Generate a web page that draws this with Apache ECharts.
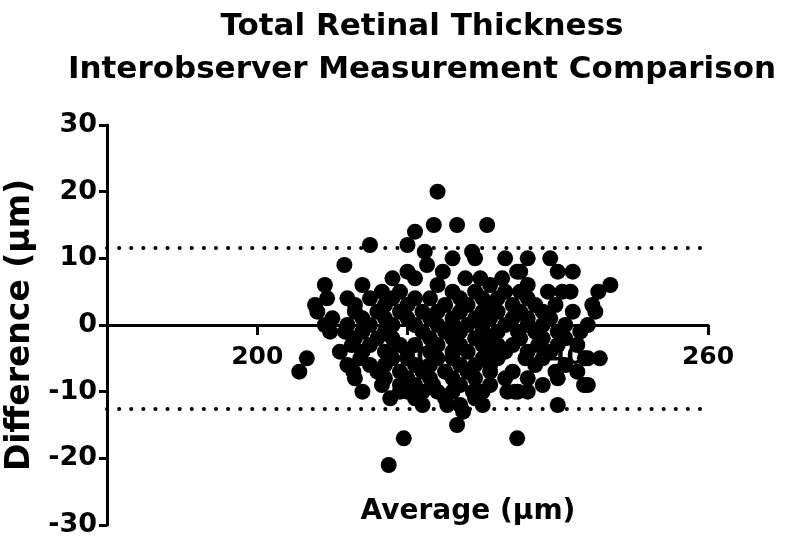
<!DOCTYPE html>
<html>
<head>
<meta charset="utf-8">
<script src="https://cdn.jsdelivr.net/npm/echarts@6/dist/echarts.min.js"></script>
<style>
  html, body { margin: 0; padding: 0; background: #fff; }
  #main { width: 789px; height: 543px; }
</style>
</head>
<body>
<div id="main"></div>
<script>
// Bland-Altman: rows of points grouped by difference value (y), x = average
var rows = [
  [20, [224]],
  [15, [223.5, 226.6, 230.6]],
  [14, [221]],
  [12, [215, 220]],
  [11, [222.3, 228.6]],
  [10, [226, 229, 233, 236, 239]],
  [9, [211.6, 222.6]],
  [8, [220, 224.7, 234.6, 235, 240, 242]],
  [7, [218, 221, 227.7, 229.7, 232.6]],
  [6, [209, 214, 224, 231, 236, 247]],
  [5, [216.6, 219, 226, 229, 233, 235, 238.7, 240.6, 241.7, 245.4]],
  [4, [209.3, 212, 215, 218, 221, 223, 227, 230, 232, 236]],
  [3, [207.7, 213, 217, 220, 225, 228, 231, 234, 237, 239.7, 244.6]],
  [2, [208, 213, 216, 219, 222, 224, 227, 230, 232, 235, 238, 242, 245]],
  [1, [210, 214, 217, 220, 223, 226, 229, 231, 234, 236, 239]],
  [0, [209, 212, 215, 218, 221, 224, 226, 228, 230, 233, 236, 238, 241, 244]],
  [-1, [209.7, 211.7, 214, 217, 222, 225, 227, 230, 232, 234.7, 237, 240, 243]],
  [-2, [213, 216, 218, 223, 226, 229, 231, 235, 238, 241]],
  [-3, [212.6, 215, 219, 221, 224, 227, 230, 232, 234, 237.4, 240, 242.6]],
  [-4, [211, 214, 217, 220, 223, 226, 228, 231, 233, 236, 239]],
  [-5, [206.6, 213.7, 218, 220, 224, 226, 230, 232, 235.7, 238, 243.6, 244, 245.6]],
  [-6, [212, 215, 217, 221, 223, 227, 229, 231, 237, 241]],
  [-7, [205.6, 212.8, 216, 219, 222, 225, 228, 231, 234, 239.7, 242.6]],
  [-8, [213, 217, 220, 223, 226, 229, 233, 236, 240]],
  [-9, [216.6, 219, 221, 223.4, 227, 231, 238, 243.5, 244]],
  [-10, [214, 219, 220, 222, 224, 226, 228.7, 230, 233.3, 234.3, 234.7, 236]],
  [-11, [217.7, 221, 225, 229]],
  [-12, [222, 225.3, 227, 230, 240]],
  [-13, [227.4]],
  [-15, [226.6]],
  [-17, [219.5, 234.6]],
  [-21, [217.5]]
];
var limits = [11.6, -12.5];
var xTicks = [180, 200, 220, 240, 260];
var yTicks = [-30, -20, -10, 0, 10, 20, 30];

var points = [];
rows.forEach(function (r) {
  r[1].forEach(function (x) { points.push([x, r[0]]); });
});

var font = 'DejaVu Sans, sans-serif';
var xMin = xTicks[0], xMax = xTicks[xTicks.length - 1];
var myChart = echarts.init(document.getElementById('main'));
myChart.setOption({
  animation: false,
  title: [{
    text: 'Total Retinal Thickness\nInterobserver Measurement Comparison',
    left: 417, top: 0, textAlign: 'center',
    textStyle: { fontFamily: font, fontWeight: 'bold', fontSize: 31, lineHeight: 43, color: '#000' }
  }, {
    text: 'Average (\u03bcm)',
    left: 463, top: 493, textAlign: 'center',
    textStyle: { fontFamily: font, fontWeight: 'bold', fontSize: 28, color: '#000' }
  }],
  grid: [
    { left: 107, right: 81, top: 125, bottom: 18, outerBoundsMode: 'none', containLabel: false },
    // upper half only, so the x axis sits on y = 0 with its labels
    { left: 107, right: 81, top: 125, bottom: 218, outerBoundsMode: 'none', containLabel: false }
  ],
  xAxis: [{
    type: 'value', min: xMin, max: xMax, interval: 20, show: false
  }, {
    gridIndex: 1, type: 'value', min: xMin, max: xMax, interval: 20,
    axisLine: { lineStyle: { color: '#000', width: 3 } },
    axisTick: { length: 10, lineStyle: { color: '#000', width: 3 } },
    axisLabel: {
      margin: 20, color: '#000', fontFamily: font, fontWeight: 'bold', fontSize: 25,
      formatter: function (v) { return v === xMin ? '' : v; }
    },
    splitLine: { show: false }
  }],
  yAxis: [{
    type: 'value', min: yTicks[0], max: yTicks[yTicks.length - 1], interval: 10,
    name: 'Difference (\u03bcm)', nameLocation: 'middle', nameGap: 67,
    nameTextStyle: { fontFamily: font, fontWeight: 'bold', fontSize: 33, color: '#000' },
    axisLine: { lineStyle: { color: '#000', width: 3 } },
    axisTick: { length: 8, lineStyle: { color: '#000', width: 3 } },
    axisLabel: { margin: 10, color: '#000', fontFamily: font, fontWeight: 'bold', fontSize: 27 },
    splitLine: { show: false }
  }, {
    gridIndex: 1, type: 'value', show: false
  }],
  series: [{
    type: 'scatter',
    data: points,
    symbol: 'circle',
    symbolSize: 16,
    z: 5,
    itemStyle: { color: '#000', opacity: 1 },
    markLine: {
      silent: true,
      symbol: 'none',
      label: { show: false },
      lineStyle: { color: '#000', width: 4, type: [0.1, 12], cap: 'round' },
      data: limits.map(function (v) { return { yAxis: v }; })
    }
  }]
});
</script>
</body>
</html>
